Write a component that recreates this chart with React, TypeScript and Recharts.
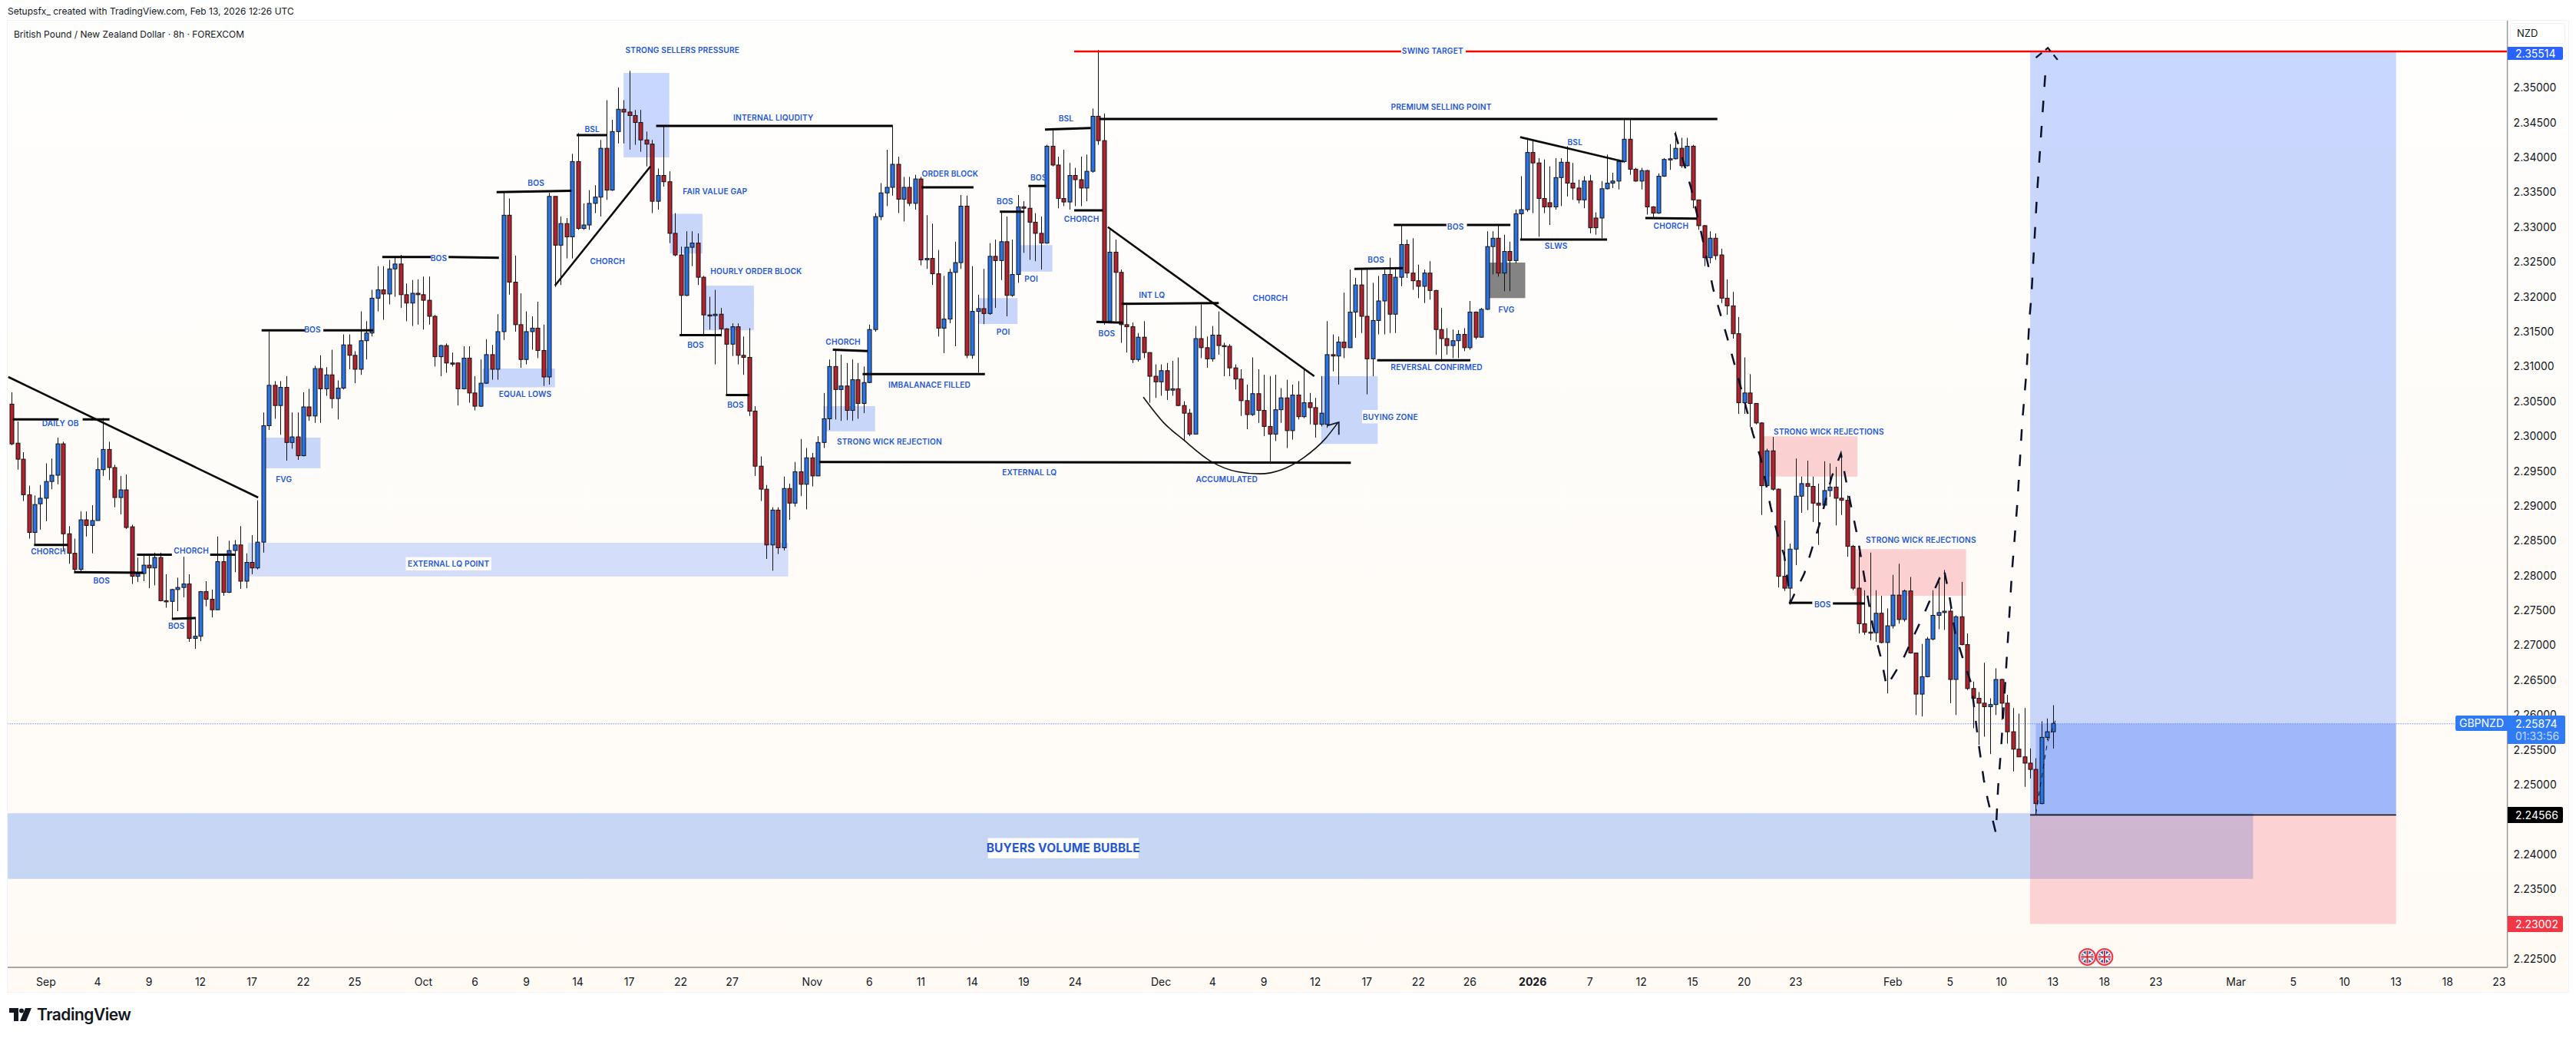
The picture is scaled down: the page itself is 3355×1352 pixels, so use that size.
import React from 'react';
import { ComposedChart, Bar, Line, XAxis, YAxis, ReferenceArea, ReferenceLine, ReferenceDot } from 'recharts';

type Candle = [number, number, number, number]; // open, high, low, close

const septemberBars: Candle[] = [
  [2.3046,2.3063,2.2987,2.2989],[2.2990,2.3021,2.2952,2.2967],[2.2967,2.2977,2.2907,2.2916],[2.2916,2.2929,2.2853,2.2862],
  [2.2862,2.2915,2.2844,2.2902],[2.2903,2.2930,2.2866,2.2911],[2.2911,2.2961,2.2878,2.2935],[2.2935,2.2968,2.2924,2.2944],
  [2.2944,2.2998,2.2931,2.2989],[2.2989,2.2992,2.2836,2.2860],[2.2860,2.2871,2.2817,2.2832],[2.2832,2.2853,2.2805,2.2809],
  [2.2809,2.2892,2.2805,2.2880],[2.2880,2.2892,2.2856,2.2872],[2.2872,2.2901,2.2832,2.2879],[2.2879,2.2969,2.2879,2.2952],
  [2.2952,2.3026,2.2943,2.2981],[2.2981,2.2992,2.2937,2.2955],[2.2955,2.2959,2.2898,2.2912],[2.2912,2.2943,2.2888,2.2923],
  [2.2923,2.2945,2.2867,2.2869],[2.2870,2.2873,2.2788,2.2799],[2.2799,2.2826,2.2791,2.2803],[2.2803,2.2829,2.2792,2.2815],
  [2.2815,2.2829,2.2782,2.2811],[2.2811,2.2833,2.2786,2.2826],[2.2826,2.2833,2.2763,2.2764],[2.2764,2.2802,2.2754,2.2763],
  [2.2763,2.2781,2.2738,2.2780],[2.2780,2.2797,2.2749,2.2783],[2.2783,2.2827,2.2769,2.2788],[2.2788,2.2802,2.2705,2.2710],
  [2.2710,2.2739,2.2695,2.2713],[2.2713,2.2778,2.2706,2.2777],[2.2777,2.2792,2.2756,2.2766],[2.2766,2.2780,2.2740,2.2751],
  [2.2751,2.2856,2.2751,2.2820],[2.2820,2.2831,2.2771,2.2776],[2.2776,2.2850,2.2775,2.2836],[2.2836,2.2851,2.2805,2.2844],
  [2.2844,2.2871,2.2781,2.2792],[2.2792,2.2832,2.2782,2.2819],[2.2819,2.2858,2.2802,2.2811],[2.2811,2.2908,2.2809,2.2848],
  [2.2848,2.3034,2.2833,2.3015],[2.3015,2.3150,2.3009,2.3073],[2.3073,2.3079,2.3025,2.3044],[2.3044,2.3079,2.3002,2.3070],
  [2.3070,2.3086,2.2965,2.2991],[2.2991,2.3034,2.2982,2.2999],[2.2999,2.3034,2.2966,2.2972],[2.2972,2.3063,2.2971,2.3042],
  [2.3042,2.3068,2.3022,2.3029],[2.3029,2.3101,2.3019,2.3097],[2.3097,2.3116,2.3019,2.3068],[2.3068,2.3099,2.3058,2.3088],
  [2.3088,2.3124,2.3040,2.3054],[2.3054,2.3080,2.3024,2.3069],
];

const octoberBars: Candle[] = [
  [2.3069,2.3146,2.3067,2.3131],[2.3131,2.3146,2.3096,2.3116],[2.3116,2.3122,2.3076,2.3096],[2.3096,2.3179,2.3088,2.3137],
  [2.3137,2.3165,2.3110,2.3148],[2.3148,2.3210,2.3143,2.3198],[2.3198,2.3244,2.3179,2.3210],[2.3210,2.3244,2.3167,2.3204],
  [2.3204,2.3253,2.3189,2.3240],[2.3240,2.3258,2.3200,2.3247],[2.3247,2.3260,2.3184,2.3203],[2.3203,2.3219,2.3165,2.3191],
  [2.3191,2.3224,2.3158,2.3205],[2.3205,2.3225,2.3160,2.3203],[2.3203,2.3229,2.3153,2.3195],[2.3195,2.3229,2.3160,2.3172],
  [2.3172,2.3174,2.3100,2.3114],[2.3114,2.3131,2.3086,2.3130],[2.3130,2.3133,2.3091,2.3105],[2.3105,2.3120,2.3100,2.3104],
  [2.3105,2.3106,2.3044,2.3068],[2.3068,2.3129,2.3067,2.3112],[2.3112,2.3129,2.3048,2.3062],[2.3062,2.3086,2.3037,2.3043],
  [2.3043,2.3110,2.3042,2.3076],[2.3076,2.3139,2.3075,2.3117],[2.3117,2.3131,2.3081,2.3096],[2.3096,2.3175,2.3081,2.3150],
  [2.3150,2.3351,2.3138,2.3317],[2.3317,2.3341,2.3203,2.3221],[2.3221,2.3259,2.3150,2.3160],[2.3160,2.3205,2.3098,2.3110],
  [2.3110,2.3179,2.3103,2.3150],[2.3150,2.3172,2.3124,2.3155],[2.3155,2.3193,2.3112,2.3123],[2.3123,2.3160,2.3072,2.3085],
  [2.3085,2.3349,2.3074,2.3344],[2.3344,2.3344,2.3214,2.3274],[2.3274,2.3315,2.3217,2.3305],[2.3305,2.3313,2.3255,2.3286],
  [2.3286,2.3405,2.3255,2.3394],[2.3394,2.3435,2.3296,2.3298],[2.3298,2.3334,2.3296,2.3303],[2.3303,2.3353,2.3296,2.3334],
  [2.3334,2.3360,2.3320,2.3343],[2.3343,2.3425,2.3315,2.3413],[2.3413,2.3482,2.3339,2.3353],[2.3353,2.3454,2.3352,2.3437],
  [2.3437,2.3500,2.3420,2.3469],[2.3469,2.3482,2.3420,2.3465],[2.3465,2.3524,2.3411,2.3460],[2.3460,2.3468,2.3418,2.3450],
  [2.3450,2.3468,2.3408,2.3425],[2.3425,2.3437,2.3387,2.3419],[2.3419,2.3425,2.3320,2.3337],[2.3337,2.3384,2.3325,2.3374],
  [2.3374,2.3444,2.3358,2.3365],[2.3365,2.3380,2.3277,2.3291],[2.3291,2.3320,2.3258,2.3260],[2.3260,2.3272,2.3146,2.3202],
  [2.3202,2.3294,2.3201,2.3271],[2.3271,2.3294,2.3244,2.3277],[2.3277,2.3291,2.3217,2.3228],[2.3228,2.3230,2.3146,2.3174],
  [2.3174,2.3200,2.3153,2.3173],[2.3173,2.3210,2.3103,2.3175],[2.3175,2.3184,2.3143,2.3154],[2.3154,2.3155,2.3059,2.3132],
  [2.3132,2.3162,2.3115,2.3157],[2.3157,2.3162,2.3103,2.3116],[2.3116,2.3143,2.3088,2.3113],[2.3113,2.3155,2.3029,2.3036],
  [2.3036,2.3043,2.2943,2.2957],[2.2957,2.2971,2.2907,2.2924],[2.2924,2.2930,2.2824,2.2844],[2.2844,2.2898,2.2807,2.2894],
  [2.2894,2.2898,2.2831,2.2840],[2.2840,2.2942,2.2836,2.2925],
];

const novemberBars: Candle[] = [
  [2.2925,2.2932,2.2880,2.2904],[2.2904,2.2963,2.2899,2.2949],[2.2949,2.2996,2.2914,2.2931],[2.2931,2.2983,2.2895,2.2969],
  [2.2969,2.2976,2.2928,2.2943],[2.2943,2.3000,2.2943,2.2991],[2.2991,2.3062,2.2983,2.3025],[2.3025,2.3110,2.3009,2.3100],
  [2.3100,2.3124,2.3024,2.3067],[2.3067,2.3117,2.3022,2.3072],[2.3072,2.3105,2.3023,2.3037],[2.3037,2.3110,2.3022,2.3081],
  [2.3081,2.3105,2.3025,2.3047],[2.3047,2.3100,2.3033,2.3077],[2.3077,2.3160,2.3076,2.3153],[2.3153,2.3320,2.3150,2.3315],
  [2.3315,2.3363,2.3310,2.3349],[2.3349,2.3411,2.3330,2.3357],[2.3357,2.3444,2.3345,2.3390],[2.3390,2.3401,2.3320,2.3340],
  [2.3340,2.3372,2.3308,2.3357],[2.3357,2.3372,2.3330,2.3334],[2.3334,2.3375,2.3325,2.3369],[2.3369,2.3372,2.3245,2.3253],
  [2.3253,2.3317,2.3240,2.3255],[2.3255,2.3305,2.3217,2.3233],[2.3233,2.3267,2.3143,2.3155],[2.3155,2.3230,2.3119,2.3168],
  [2.3168,2.3240,2.3162,2.3235],[2.3235,2.3279,2.3129,2.3249],[2.3249,2.3346,2.3240,2.3330],[2.3330,2.3345,2.3112,2.3116],
  [2.3116,2.3244,2.3111,2.3179],[2.3179,2.3203,2.3091,2.3183],[2.3183,2.3240,2.3161,2.3176],[2.3176,2.3277,2.3174,2.3258],
  [2.3258,2.3282,2.3184,2.3252],[2.3252,2.3322,2.3224,2.3279],[2.3279,2.3315,2.3172,2.3202],[2.3202,2.3282,2.3200,2.3232],
  [2.3232,2.3346,2.3220,2.3329],[2.3329,2.3337,2.3263,2.3327],[2.3327,2.3358,2.3253,2.3307],[2.3307,2.3320,2.3251,2.3291],
  [2.3291,2.3315,2.3239,2.3277],[2.3277,2.3418,2.3276,2.3416],[2.3416,2.3442,2.3387,2.3389],[2.3389,2.3401,2.3327,2.3341],
  [2.3341,2.3411,2.3330,2.3336],[2.3336,2.3392,2.3325,2.3374],[2.3374,2.3385,2.3330,2.3368],[2.3368,2.3401,2.3330,2.3356],
  [2.3356,2.3404,2.3337,2.3380],[2.3380,2.3470,2.3378,2.3459],[2.3459,2.3554,2.3418,2.3424],
];

const decemberBars: Candle[] = [
  [2.3424,2.3463,2.3160,2.3165],[2.3165,2.3296,2.3162,2.3264],[2.3264,2.3282,2.3165,2.3235],[2.3235,2.3239,2.3134,2.3160],
  [2.3160,2.3189,2.3120,2.3157],[2.3157,2.3163,2.3105,2.3110],[2.3110,2.3148,2.3107,2.3142],[2.3142,2.3165,2.3112,2.3120],
  [2.3120,2.3120,2.3048,2.3086],[2.3086,2.3103,2.3055,2.3078],[2.3078,2.3103,2.3058,2.3094],[2.3094,2.3105,2.3052,2.3066],
  [2.3066,2.3108,2.3058,2.3068],[2.3068,2.3113,2.3043,2.3044],[2.3044,2.3050,2.2993,2.3033],[2.3033,2.3039,2.3000,2.3003],
  [2.3003,2.3158,2.3003,2.3140],[2.3140,2.3189,2.3112,2.3127],[2.3127,2.3143,2.3098,2.3111],[2.3111,2.3158,2.3107,2.3145],
  [2.3145,2.3179,2.3117,2.3130],[2.3130,2.3134,2.3086,2.3129],[2.3129,2.3132,2.3086,2.3098],[2.3098,2.3103,2.3067,2.3082],
  [2.3082,2.3096,2.3029,2.3051],[2.3051,2.3074,2.3010,2.3031],[2.3031,2.3113,2.3029,2.3061],[2.3061,2.3096,2.3019,2.3037],
  [2.3037,2.3088,2.3000,2.3014],[2.3014,2.3086,2.2964,2.3003],[2.3003,2.3088,2.2993,2.3038],[2.3038,2.3069,2.3019,2.3055],
  [2.3055,2.3081,2.2983,2.3008],[2.3008,2.3074,2.2995,2.3059],[2.3059,2.3079,2.3024,2.3028],[2.3028,2.3097,2.3026,2.3048],
  [2.3048,2.3062,2.3017,2.3041],[2.3041,2.3055,2.2998,2.3017],[2.3017,2.3086,2.3014,2.3033],[2.3017,2.3165,2.3012,2.3117],
  [2.3117,2.3146,2.3093,2.3115],[2.3115,2.3143,2.3074,2.3135],[2.3135,2.3206,2.3112,2.3127],[2.3127,2.3239,2.3127,2.3178],
  [2.3178,2.3227,2.3141,2.3217],[2.3217,2.3239,2.3148,2.3172],[2.3172,2.3241,2.3060,2.3111],[2.3111,2.3220,2.3086,2.3166],
  [2.3166,2.3230,2.3146,2.3194],[2.3194,2.3239,2.3146,2.3232],[2.3232,2.3256,2.3148,2.3175],[2.3175,2.3241,2.3148,2.3228],
  [2.3228,2.3303,2.3215,2.3275],[2.3275,2.3282,2.3227,2.3234],[2.3234,2.3284,2.3210,2.3223],[2.3223,2.3246,2.3198,2.3215],
  [2.3215,2.3239,2.3191,2.3234],[2.3234,2.3251,2.3196,2.3209],[2.3209,2.3210,2.3117,2.3153],[2.3153,2.3184,2.3107,2.3140],
  [2.3140,2.3155,2.3117,2.3130],[2.3130,2.3153,2.3112,2.3137],[2.3137,2.3152,2.3112,2.3146],[2.3146,2.3155,2.3122,2.3127],
  [2.3127,2.3194,2.3124,2.3178],[2.3178,2.3179,2.3139,2.3142],[2.3142,2.3184,2.3141,2.3182],
];

const januaryBars: Candle[] = [
  [2.3182,2.3294,2.3181,2.3272],[2.3272,2.3294,2.3232,2.3284],[2.3284,2.3303,2.3229,2.3234],[2.3234,2.3289,2.3208,2.3265],
  [2.3265,2.3279,2.3208,2.3252],[2.3252,2.3325,2.3248,2.3319],[2.3319,2.3373,2.3282,2.3325],[2.3325,2.3428,2.3322,2.3407],
  [2.3407,2.3423,2.3320,2.3392],[2.3392,2.3399,2.3286,2.3341],[2.3341,2.3397,2.3320,2.3329],[2.3335,2.3387,2.3303,2.3329],
  [2.3329,2.3399,2.3325,2.3371],[2.3371,2.3399,2.3330,2.3393],[2.3393,2.3416,2.3344,2.3363],[2.3363,2.3392,2.3339,2.3356],
  [2.3356,2.3368,2.3334,2.3339],[2.3339,2.3373,2.3327,2.3366],[2.3366,2.3375,2.3291,2.3299],[2.3313,2.3321,2.3289,2.3299],
  [2.3313,2.3366,2.3284,2.3355],[2.3355,2.3404,2.3354,2.3363],[2.3363,2.3378,2.3356,2.3366],[2.3366,2.3397,2.3354,2.3394],
  [2.3394,2.3456,2.3392,2.3426],[2.3426,2.3456,2.3375,2.3383],[2.3383,2.3385,2.3365,2.3366],[2.3366,2.3385,2.3354,2.3381],
  [2.3381,2.3382,2.3318,2.3329],[2.3329,2.3330,2.3313,2.3320],[2.3320,2.3377,2.3319,2.3373],[2.3373,2.3399,2.3372,2.3397],
  [2.3397,2.3419,2.3382,2.3398],[2.3398,2.3437,2.3397,2.3413],[2.3413,2.3428,2.3385,2.3388],[2.3388,2.3428,2.3387,2.3416],
  [2.3416,2.3418,2.3327,2.3339],[2.3339,2.3339,2.3296,2.3302],[2.3302,2.3303,2.3244,2.3256],[2.3256,2.3294,2.3248,2.3284],
  [2.3284,2.3291,2.3253,2.3259],[2.3260,2.3269,2.3191,2.3198],[2.3198,2.3225,2.3174,2.3187],[2.3187,2.3207,2.3140,2.3147],
  [2.3147,2.3171,2.3032,2.3048],[2.3048,2.3113,2.3032,2.3062],[2.3062,2.3089,2.3013,2.3047],[2.3047,2.3047,2.3017,2.3019],
  [2.3019,2.3020,2.2887,2.2929],[2.2929,2.2982,2.2927,2.2979],[2.2979,2.2999,2.2922,2.2924],[2.2924,2.2925,2.2783,2.2799],
  [2.2799,2.2879,2.2778,2.2782],[2.2782,2.2846,2.2762,2.2838],[2.2838,2.2968,2.2815,2.2914],[2.2914,2.2942,2.2890,2.2932],
  [2.2932,2.2965,2.2894,2.2928],[2.2928,2.2942,2.2877,2.2904],[2.2904,2.2932,2.2844,2.2901],[2.2901,2.2964,2.2900,2.2922],
  [2.2922,2.2961,2.2913,2.2927],[2.2927,2.2956,2.2872,2.2911],[2.2911,2.2973,2.2887,2.2908],
];

const februaryBars: Candle[] = [
  [2.2908,2.2915,2.2827,2.2842],[2.2842,2.2844,2.2779,2.2782],[2.2782,2.2834,2.2717,2.2731],[2.2731,2.2779,2.2715,2.2719],
  [2.2719,2.2833,2.2707,2.2718],[2.2718,2.2779,2.2705,2.2746],[2.2746,2.2771,2.2703,2.2704],[2.2704,2.2753,2.2631,2.2728],
  [2.2728,2.2801,2.2724,2.2772],[2.2772,2.2817,2.2731,2.2737],[2.2737,2.2780,2.2734,2.2778],[2.2778,2.2798,2.2688,2.2689],
  [2.2689,2.2689,2.2600,2.2630],[2.2630,2.2702,2.2598,2.2655],[2.2655,2.2712,2.2654,2.2709],[2.2709,2.2779,2.2707,2.2743],
  [2.2743,2.2798,2.2723,2.2747],[2.2747,2.2808,2.2722,2.2749],[2.2749,2.2753,2.2617,2.2651],[2.2651,2.2743,2.2600,2.2741],
  [2.2741,2.2791,2.2700,2.2701],[2.2701,2.2717,2.2636,2.2638],[2.2638,2.2648,2.2581,2.2624],[2.2624,2.2633,2.2557,2.2617],
  [2.2617,2.2675,2.2569,2.2612],[2.2612,2.2624,2.2544,2.2615],[2.2615,2.2667,2.2600,2.2651],[2.2651,2.2652,2.2593,2.2617],
  [2.2617,2.2629,2.2559,2.2576],[2.2576,2.2610,2.2519,2.2551],[2.2551,2.2602,2.2540,2.2540],[2.2540,2.2610,2.2497,2.2531],
  [2.2531,2.2552,2.2509,2.2522],[2.2522,2.2538,2.2457,2.2473],[2.2473,2.2591,2.2472,2.2568],[2.2568,2.2595,2.2564,2.2576],
  [2.2576,2.2614,2.2552,2.2588],
];

const priceTicks = [2.225,2.23,2.235,2.24,2.245,2.25,2.255,2.26,2.265,2.27,2.275,2.28,2.285,2.29,2.295,2.3,2.305,2.31,2.315,2.32,2.325,2.33,2.335,2.34,2.345,2.35];
const timeTickSpots = [6,15,24,33,42,51,60,72,81,90,99,108,117,126,140,150,159,168,177,186,201,210,219,228,237,246,255,266,276,285,294,303,312,329,339,348,357,366,375,389,399,408,417,426,435];
const timeTickLabels = ['Sep','4','9','12','17','22','25','Oct','6','9','14','17','22','27','Nov','6','11','14','19','24','Dec','4','9','12','17','22','26','2026','7','12','15','20','23','Feb','5','10','13','18','23','Mar','5','10','13','18','23'];

// zones: barFrom, barTo, priceLow, priceHigh
const blueZones = [
  [44.3,54,2.2954,2.2998],[82.3,95,2.3070,2.3097],[107,115,2.3400,2.3521],[115.1,120.8,2.3262,2.3319],
  [121.1,129.8,2.3152,2.3216],[141.9,151,2.3007,2.3043],[169,175.9,2.3161,2.3198],[175.9,182,2.3236,2.3274],
  [229,238.9,2.2989,2.3086],
];
const pinkZones = [[306.4,322.8,2.2942,2.3000],[322.3,341.8,2.2771,2.2838]];
const liquidityZone = [41.3,135.8,2.2799,2.2847];
const grayZone = [258.2,264.7,2.3198,2.3249];
const buyersBubble = [-0.71,392,2.2365,2.2459];
const entryPrice = 2.24566;
const targetPrice = 2.35514;
const stopPrice = 2.23002;
const lastPrice = 2.25874;
const positionBars = [353,417];
const progressBar = 354;
const swingTargetLines = [[185.8,243,2.3552],[254.3,436.46,2.3552]];

// straight drawings: barFrom, priceFrom, barTo, priceTo
const structureLines = [
  [0.2,2.3024,8.2,2.3024],[12.4,2.3024,17.1,2.3024],[3.9,2.2844,9.8,2.2844],[10.9,2.2805,23,2.2804],
  [21.9,2.2830,28,2.2830],[34.7,2.2830,39.1,2.2830],[28,2.2738,32.2,2.2739],
  [43.7,2.3152,51.3,2.3152],[54.5,2.3152,63.2,2.3152],[64.8,2.3257,73.3,2.3257],[76.4,2.3257,85.2,2.3256],
  [84.8,2.3350,97.9,2.3352],[98.8,2.3432,104.1,2.3432],[112.7,2.3445,154.1,2.3445],[116.8,2.3145,124.1,2.3145],
  [124.9,2.3059,129,2.3059],[143.6,2.3124,149.7,2.3122],[141.2,2.2963,234.2,2.2962],[148.8,2.3089,170.2,2.3089],
  [159.1,2.3357,168.2,2.3357],[172.8,2.3322,177.1,2.3322],[177.8,2.3359,180.9,2.3359],[180.7,2.3440,188.7,2.3442],
  [185.8,2.3324,190.8,2.3324],[190.2,2.3455,298.3,2.3455],[194.1,2.3190,211.1,2.3191],[189.7,2.3164,194.3,2.3163],
  [234.8,2.3240,243.3,2.3241],[241.7,2.3303,250.9,2.3303],[254.5,2.3303,262.1,2.3303],[238.8,2.3109,255.1,2.3109],
  [263.8,2.3282,279,2.3282],[285.7,2.3313,294.7,2.3312],[310.8,2.2761,314.9,2.2761],[318.5,2.2760,324.1,2.2760],
];
const trendLines = [
  [-0.6,2.3085,43.1,2.2912],[95,2.3216,111.7,2.3387],[191.7,2.3300,227.8,2.3086],[263.8,2.3429,281.9,2.3394],
];

const accumulatedCurve = [
  {i:197.9,p:2.3056},{i:201.5,p:2.3019},{i:204.9,p:2.2995},{i:209.7,p:2.2964},{i:214.4,p:2.2949},
  {i:218.3,p:2.2946},{i:222.1,p:2.2952},{i:225.9,p:2.2969},{i:229.8,p:2.2997},{i:231.9,p:2.3019},
];
const curveArrow = [{i:230,p:2.3015},{i:232.1,p:2.3020},{i:232.1,p:2.3002}];
const projectionPath = [
  {i:290.9,p:2.3435},{i:293.7,p:2.3356},{i:295.5,p:2.3291},{i:297.6,p:2.3210},{i:300,p:2.3142},{i:301.1,p:2.3109},
  {i:302.7,p:2.3061},{i:304.5,p:2.3004},{i:305.9,p:2.2968},{i:307.6,p:2.2899},{i:308.8,p:2.2860},{i:310,p:2.2829},
  {i:311.1,p:2.2762},{i:313.5,p:2.2803},{i:316.1,p:2.2872},{i:318.3,p:2.2942},{i:319.9,p:2.2975},{i:320.9,p:2.2932},
  {i:321.7,p:2.2899},{i:322.8,p:2.2856},{i:324.1,p:2.2793},{i:325.5,p:2.2727},{i:327,p:2.2679},{i:327.9,p:2.2641},
  {i:330.7,p:2.2679},{i:334.6,p:2.2748},{i:336.5,p:2.2784},{i:337.9,p:2.2810},{i:338.9,p:2.2770},{i:339.9,p:2.2717},
  {i:341.3,p:2.2679},{i:342.7,p:2.2645},{i:343.9,p:2.2564},{i:344.9,p:2.2507},{i:345.6,p:2.2478},{i:347,p:2.2431},
  {i:347.4,p:2.2497},{i:347.9,p:2.2550},{i:348.7,p:2.2653},{i:349.8,p:2.2803},{i:350.8,p:2.2908},{i:351.6,p:2.3018},
  {i:352.4,p:2.3097},{i:352.9,p:2.3171},{i:353.2,p:2.3199},{i:354.2,p:2.3347},{i:355.1,p:2.3455},{i:355.8,p:2.3537},
];
const projectionHead = [{i:354,p:2.3543},{i:356.1,p:2.3557},{i:357.8,p:2.3540}];
const nearTermPath = [{i:354,p:2.2458},{i:355,p:2.2510},{i:356,p:2.2560},{i:357.4,p:2.2592}];
const calendarFlags = [[363,2.2253],[366,2.2253]];

// text marks: label, bar, price
const chartNotes: [string, number, number][] = [
  ['DAILY OB',8.5,2.3019],['CHORCH',6.4,2.2835],['BOS',15.7,2.2793],['CHORCH',31.4,2.2836],['BOS',28.8,2.2728],
  ['FVG',47.6,2.2939],['BOS',52.6,2.3153],['BOS',74.7,2.3256],['BOS',91.7,2.3364],['BSL',101.5,2.3441],
  ['STRONG SELLERS PRESSURE',117.3,2.3554],['INTERNAL LIQUDITY',133.2,2.3457],['FAIR VALUE GAP',123,2.3351],
  ['CHORCH',104.2,2.3251],['HOURLY ORDER BLOCK',130.2,2.3237],['EQUAL LOWS',89.8,2.3061],['BOS',119.6,2.3131],
  ['BOS',126.6,2.3045],['CHORCH',145.4,2.3136],['STRONG WICK REJECTION',153.5,2.2992],['SWING TARGET',248.5,2.3553],
  ['PREMIUM SELLING POINT',250,2.3473],['BSL',184.4,2.3456],['ORDER BLOCK',164.1,2.3377],['BOS',179.6,2.3371],
  ['BOS',173.7,2.3337],['CHORCH',187.1,2.3312],['POI',178.3,2.3226],['POI',173.4,2.3150],['INT LQ',199.4,2.3203],
  ['CHORCH',220.1,2.3198],['BOS',191.5,2.3148],['IMBALANACE FILLED',160.5,2.3074],['EXTERNAL LQ',178,2.2948],
  ['ACCUMULATED',212.5,2.2938],['REVERSAL CONFIRMED',249.2,2.3099],['FVG',261.4,2.3182],['BOS',238.6,2.3253],
  ['BOS',252.5,2.3301],['BSL',273.4,2.3422],['SLWS',270.1,2.3273],['CHORCH',290.2,2.3302],
  ['STRONG WICK REJECTIONS',317.8,2.3007],['STRONG WICK REJECTIONS',333.9,2.2852],['BOS',316.7,2.2759],
];
const boxedNotes: [string, number, number][] = [['EXTERNAL LQ POINT',76.4,2.2817],['BUYING ZONE',241.1,2.3028]];
const bigNote: [string, number, number] = ['BUYERS VOLUME BUBBLE',183.9,2.2409];

const allBars = [...septemberBars, ...octoberBars, ...novemberBars, ...decemberBars, ...januaryBars, ...februaryBars];
const rows = allBars.map(([o, h, l, c], i) => ({ i, o, h, l, c }));

const UI_FONT = 'Inter, Roboto, sans-serif';
const NOTE_BLUE = '#2257d8';

const CandleShape = (props: any) => {
  const { x, y, width, height, payload } = props;
  const { o, h, l, c } = payload;
  const cx = Math.round(x + width / 2);
  const perUnit = height / (h - l);
  const top = y + (h - Math.max(o, c)) * perUnit;
  const bodyH = Math.max(Math.abs(o - c) * perUnit, 1.5);
  return (
    <g>
      <line x1={cx + 0.5} x2={cx + 0.5} y1={y} y2={y + height} stroke="#111" strokeWidth={1} />
      <rect x={cx - 2} y={top} width={5} height={bodyH} fill={c >= o ? '#2a74e6' : '#b0232f'} stroke="#111" strokeWidth={1} />
    </g>
  );
};

const noteShape = (text: string, opts: { size?: number; boxed?: boolean; weight?: number } = {}) => (props: any) => {
  const size = opts.size ?? 10.2;
  const w = text.length * size * 0.62 + 4;
  return (
    <g>
      {opts.boxed && <rect x={props.cx - w / 2} y={props.cy - size * 0.85} width={w} height={size * 1.7} fill="#ffffff" />}
      <text x={props.cx} y={props.cy} textAnchor="middle" dominantBaseline="central" fontFamily={UI_FONT} fontSize={size} fontWeight={opts.weight ?? 600} letterSpacing={0.15} fill={NOTE_BLUE}>{text}</text>
    </g>
  );
};

const FlagShape = (props: any) => {
  const { cx, cy } = props;
  return (
    <g>
      <circle cx={cx} cy={cy} r={10.5} fill="#fbe9ea" stroke="#f23645" strokeWidth={2} />
      <circle cx={cx} cy={cy} r={8} fill="#2a4fa8" />
      <line x1={cx - 6} y1={cy - 5} x2={cx + 6} y2={cy + 5} stroke="#fff" strokeWidth={2} />
      <line x1={cx - 6} y1={cy + 5} x2={cx + 6} y2={cy - 5} stroke="#fff" strokeWidth={2} />
      <line x1={cx - 8} y1={cy} x2={cx + 8} y2={cy} stroke="#fff" strokeWidth={4} />
      <line x1={cx} y1={cy - 8} x2={cx} y2={cy + 8} stroke="#fff" strokeWidth={4} />
      <line x1={cx - 8} y1={cy} x2={cx + 8} y2={cy} stroke="#d8232f" strokeWidth={2} />
      <line x1={cx} y1={cy - 8} x2={cx} y2={cy + 8} stroke="#d8232f" strokeWidth={2} />
    </g>
  );
};

const TimeTick = (props: any) => {
  const { x, y, payload, index } = props;
  const label = timeTickLabels[index] ?? String(payload.value);
  return (
    <text x={x} y={y + 16} textAnchor="middle" fontFamily={UI_FONT} fontSize={14} fontWeight={label === '2026' ? 700 : 400} fill="#131722">{label}</text>
  );
};

const priceBox = (top: number, height: number, bg: string): React.CSSProperties => ({
  position: 'absolute', left: 3266, top, width: 71.5, height, background: bg, color: '#fff',
  fontFamily: UI_FONT, fontSize: 14, lineHeight: `${height}px`, paddingLeft: 10, boxSizing: 'border-box', borderRadius: '0 2px 2px 0',
});

export default function App() {
  return (
    <div style={{ position: 'absolute', left: 0, top: 0, width: 3355, height: 1352, background: '#fff', overflow: 'hidden' }}>
      <div style={{ position: 'absolute', left: 10, top: 7, fontFamily: UI_FONT, fontSize: 12, color: '#131722', whiteSpace: 'nowrap' }}>
        Setupsfx_ created with TradingView.com, Feb 13, 2026 12:26 UTC
      </div>
      <div style={{ position: 'absolute', left: 9, top: 26, width: 3337, height: 1267, boxSizing: 'border-box', border: '1.5px solid #f0f3fa', background: 'linear-gradient(180deg,#fefefd 0%,#fffaf4 100%)' }} />
      <ComposedChart width={3355} height={1352} data={rows} margin={{ top: 27, right: 0, bottom: 60, left: 10 }} style={{ position: 'absolute', left: 0, top: 0 }}>
        <XAxis dataKey="i" type="number" domain={[-0.71, 436.46]} ticks={timeTickSpots} tick={<TimeTick />} tickLine={false} axisLine={{ stroke: '#8f8a85', strokeWidth: 1.5 }} height={32} allowDataOverflow interval={0} />
        <YAxis orientation="right" type="number" domain={[2.2238, 2.3596]} ticks={priceTicks} tickFormatter={(v: number) => v.toFixed(5)} tick={{ fontFamily: UI_FONT, fontSize: 14, fill: '#131722' }} tickLine={false} axisLine={{ stroke: '#9a9a9a', strokeWidth: 1.5 }} width={89.4} allowDataOverflow interval={0} />

        <ReferenceArea x1={buyersBubble[0]} x2={buyersBubble[1]} y1={buyersBubble[2]} y2={buyersBubble[3]} fill="#1f68f0" fillOpacity={0.25} stroke="none" ifOverflow="visible" />
        <ReferenceArea x1={positionBars[0]} x2={positionBars[1]} y1={entryPrice} y2={targetPrice} fill="#2962ff" fillOpacity={0.25} stroke="none" />
        <ReferenceArea x1={progressBar} x2={positionBars[1]} y1={entryPrice} y2={lastPrice} fill="#2962ff" fillOpacity={0.25} stroke="none" />
        <ReferenceArea x1={positionBars[0]} x2={positionBars[1]} y1={stopPrice} y2={entryPrice} fill="#f23645" fillOpacity={0.2} stroke="none" />
        {blueZones.map((z, k) => (
          <ReferenceArea key={`b${k}`} x1={z[0]} x2={z[1]} y1={z[2]} y2={z[3]} fill="#2962ff" fillOpacity={0.25} stroke="none" />
        ))}
        {pinkZones.map((z, k) => (
          <ReferenceArea key={`r${k}`} x1={z[0]} x2={z[1]} y1={z[2]} y2={z[3]} fill="#f23645" fillOpacity={0.22} stroke="none" />
        ))}
        <ReferenceArea x1={liquidityZone[0]} x2={liquidityZone[1]} y1={liquidityZone[2]} y2={liquidityZone[3]} fill="#2962ff" fillOpacity={0.2} stroke="none" />

        <ReferenceLine y={lastPrice} stroke="#2962ff" strokeDasharray="1 2" strokeWidth={1} />
        <Bar dataKey={(d: any) => [d.l, d.h]} barSize={6} shape={<CandleShape />} isAnimationActive={false} />
        <ReferenceArea x1={grayZone[0]} x2={grayZone[1]} y1={grayZone[2]} y2={grayZone[3]} fill="#3a3a3a" fillOpacity={0.62} stroke="none" />

        <ReferenceLine segment={[{ x: positionBars[0], y: entryPrice }, { x: positionBars[1], y: entryPrice }]} stroke="#000" strokeWidth={1.5} />
        {swingTargetLines.map((s, k) => (
          <ReferenceLine key={`st${k}`} segment={[{ x: s[0], y: s[2] }, { x: s[1], y: s[2] }]} stroke="#ff0000" strokeWidth={2.5} />
        ))}
        {structureLines.map((s, k) => (
          <ReferenceLine key={`s${k}`} segment={[{ x: s[0], y: s[1] }, { x: s[2], y: s[3] }]} stroke="#000" strokeWidth={3} />
        ))}
        {trendLines.map((s, k) => (
          <ReferenceLine key={`t${k}`} ifOverflow="visible" segment={[{ x: s[0], y: s[1] }, { x: s[2], y: s[3] }]} stroke="#0a0a0a" strokeWidth={2.6} />
        ))}

        <Line data={accumulatedCurve} dataKey="p" type="monotone" stroke="#111" strokeWidth={1.6} dot={false} isAnimationActive={false} legendType="none" />
        <Line data={curveArrow} dataKey="p" type="linear" stroke="#131a2e" strokeWidth={1.8} dot={false} isAnimationActive={false} legendType="none" />
        <Line data={projectionPath} dataKey="p" type="linear" stroke="#0b1226" strokeWidth={2.5} strokeDasharray="15 18" dot={false} isAnimationActive={false} legendType="none" />
        <Line data={projectionHead} dataKey="p" type="linear" stroke="#0b1226" strokeWidth={2.2} strokeDasharray="10 6" dot={false} isAnimationActive={false} legendType="none" />
        <Line data={nearTermPath} dataKey="p" type="linear" stroke="#0b1226" strokeWidth={1} strokeDasharray="6 6" dot={false} isAnimationActive={false} legendType="none" />

        {chartNotes.map(([t, x, y], k) => (
          <ReferenceDot key={`n${k}`} x={x} y={y} r={0} ifOverflow="visible" shape={noteShape(t)} />
        ))}
        {boxedNotes.map(([t, x, y], k) => (
          <ReferenceDot key={`bn${k}`} x={x} y={y} r={0} ifOverflow="visible" shape={noteShape(t, { boxed: true })} />
        ))}
        <ReferenceDot x={bigNote[1]} y={bigNote[2]} r={0} ifOverflow="visible" shape={noteShape(bigNote[0], { size: 15.5, boxed: true, weight: 700 })} />
        {calendarFlags.map(([x, y], k) => (
          <ReferenceDot key={`f${k}`} x={x} y={y} r={0} ifOverflow="visible" shape={<FlagShape />} />
        ))}
      </ComposedChart>

      <div style={{ position: 'absolute', left: 18, top: 37, fontFamily: UI_FONT, fontSize: 12, color: '#131722', whiteSpace: 'nowrap' }}>
        British Pound / New Zealand Dollar · 8h · FOREXCOM
      </div>
      <div style={{ position: 'absolute', left: 3269, top: 30, width: 72, height: 27, boxSizing: 'border-box', border: '1.5px solid #eef0f4', borderRadius: 4, background: '#fff', fontFamily: UI_FONT, fontSize: 13, lineHeight: '25px', paddingLeft: 8, color: '#131722' }}>NZD</div>
      <div style={priceBox(61, 17, '#2962ff')}>2.35514</div>
      <div style={{ ...priceBox(932, 37, '#2f7bf6'), width: 75, lineHeight: '22px' }}>
        2.25874
        <div style={{ marginTop: -6, color: '#c3d8ff' }}>01:33:56</div>
      </div>
      <div style={{ position: 'absolute', left: 3198, top: 932, width: 68, height: 20, background: '#2f7bf6', color: '#fff', fontFamily: UI_FONT, fontSize: 14, lineHeight: '20px', textAlign: 'center', borderRadius: '2px 0 0 2px' }}>GBPNZD</div>
      <div style={priceBox(1051, 21, '#000')}>2.24566</div>
      <div style={priceBox(1193, 21, '#f23645')}>2.23002</div>

      <svg style={{ position: 'absolute', left: 12, top: 1312 }} width={30} height={20} viewBox="0 0 30 20">
        <path d="M0 1h12v17H6V7H0z" fill="#131722" />
        <circle cx="16" cy="4.5" r="3" fill="#131722" />
        <path d="M21 1h8l-7 17h-8z" fill="#131722" />
      </svg>
      <div style={{ position: 'absolute', left: 48, top: 1309, fontFamily: UI_FONT, fontSize: 21, fontWeight: 600, letterSpacing: -0.5, color: '#131722' }}>TradingView</div>
    </div>
  );
}
